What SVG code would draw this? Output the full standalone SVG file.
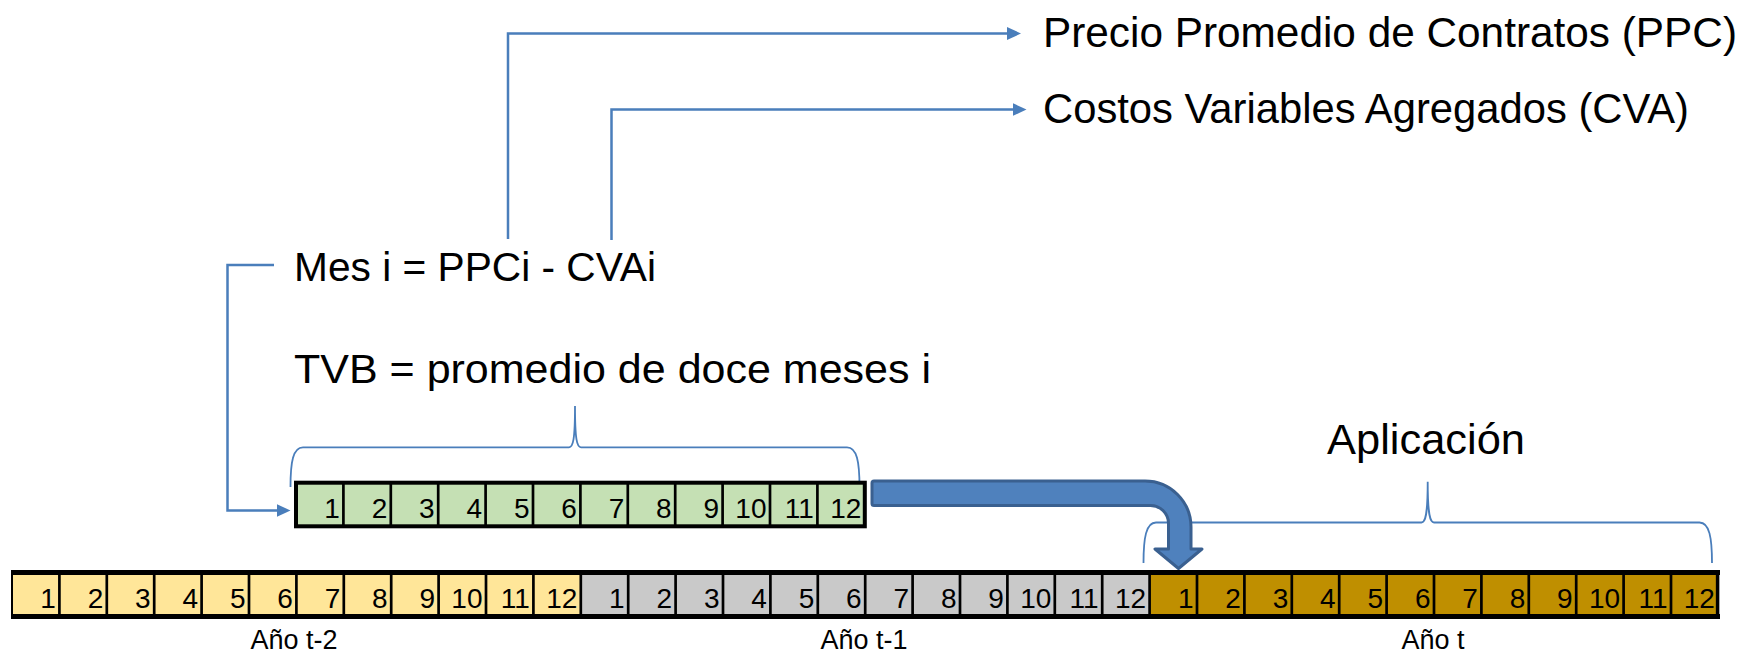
<svg xmlns="http://www.w3.org/2000/svg" width="1744" height="655" viewBox="0 0 1744 655">
<style>
text{font-family:"Liberation Sans",Arial,sans-serif;fill:#000}
.big{font-size:42px}
.num{font-size:28px;text-anchor:end}
.yr{font-size:27px;text-anchor:middle}
.sep{stroke:#000;stroke-width:2.7}
.conn{fill:none;stroke:#4A7EBB;stroke-width:2.5}
.brace{fill:none;stroke:#4A7EBB;stroke-width:1.8}
</style>
<defs>
<marker id="ah" markerUnits="userSpaceOnUse" markerWidth="16" markerHeight="14" refX="3" refY="6.5" orient="auto">
<path d="M0,0 L14,6.5 L0,13 Z" fill="#4A7EBB"/>
</marker>
</defs>

<g id="label-ppc"><text class="big" x="1043" y="46.5" textLength="694" lengthAdjust="spacingAndGlyphs">Precio Promedio de Contratos (PPC)</text></g>
<g id="label-cva"><text class="big" x="1043" y="122.5" textLength="646" lengthAdjust="spacingAndGlyphs">Costos Variables Agregados (CVA)</text></g>
<g id="label-mes"><text class="big" x="294" y="280.5" style="font-size:40px" textLength="362" lengthAdjust="spacingAndGlyphs">Mes i = PPCi - CVAi</text></g>
<g id="label-tvb"><text class="big" x="294" y="383.3" style="font-size:40px" textLength="637" lengthAdjust="spacingAndGlyphs">TVB = promedio de doce meses i</text></g>
<g id="label-aplicacion"><text class="big" x="1327" y="454.3" style="font-size:43px" textLength="198" lengthAdjust="spacingAndGlyphs">Aplicación</text></g>

<g id="connectors">
<path class="conn" d="M508,239 V33.5 H1010" marker-end="url(#ah)"/>
<path class="conn" d="M611.5,240 V109.5 H1015.5" marker-end="url(#ah)"/>
<path class="conn" d="M274,265 H227.5 V510.5 H279.5" marker-end="url(#ah)"/>
<path class="brace" d="M290.5,487 C290.5,462 293,447.3 303,447.3 H569 C573,447.3 575,440 575,406 C575,440 577,447.3 581,447.3 H847 C857,447.3 859.5,462 859.5,487"/>
<path class="brace" d="M1143.5,563 C1143.5,538 1146,522.5 1156,522.5 H1421.5 C1425.5,522.5 1427.7,515 1427.7,481.7 C1427.7,515 1430,522.5 1434,522.5 H1699.5 C1709.5,522.5 1712,538 1712,563"/>
<path id="big-arrow" d="M874,481 H1145 A46,46 0 0 1 1191,527 V549 H1202 L1178.5,568.5 L1155,549 H1168.5 V523.5 A18,18 0 0 0 1150.5,505.5 H874 Q872,505.5 872,503.5 V483 Q872,481 874,481 Z" fill="#4F81BD" stroke="#3A6090" stroke-width="3" stroke-linejoin="round"/>
</g>

<g id="tvb-months">
<rect x="296" y="482.7" width="568.8" height="43.6" fill="#C5E0B4" stroke="#000" stroke-width="4"/>
<g class="sep">
<line x1="343.4" y1="482.7" x2="343.4" y2="526.3"/><line x1="390.8" y1="482.7" x2="390.8" y2="526.3"/><line x1="438.2" y1="482.7" x2="438.2" y2="526.3"/><line x1="485.6" y1="482.7" x2="485.6" y2="526.3"/><line x1="533" y1="482.7" x2="533" y2="526.3"/><line x1="580.4" y1="482.7" x2="580.4" y2="526.3"/><line x1="627.8" y1="482.7" x2="627.8" y2="526.3"/><line x1="675.2" y1="482.7" x2="675.2" y2="526.3"/><line x1="722.6" y1="482.7" x2="722.6" y2="526.3"/><line x1="770" y1="482.7" x2="770" y2="526.3"/><line x1="817.4" y1="482.7" x2="817.4" y2="526.3"/>
</g>
<text class="num" x="339.9" y="518">1</text><text class="num" x="387.3" y="518">2</text><text class="num" x="434.7" y="518">3</text><text class="num" x="482.1" y="518">4</text><text class="num" x="529.5" y="518">5</text><text class="num" x="576.9" y="518">6</text><text class="num" x="624.3" y="518">7</text><text class="num" x="671.7" y="518">8</text><text class="num" x="719.1" y="518">9</text><text class="num" x="766.5" y="518">10</text><text class="num" x="813.9" y="518">11</text><text class="num" x="861.3" y="518">12</text>
</g>

<g id="year-t-2">
<rect x="12" y="572" width="568.8" height="45" fill="#FFE699"/>
<text class="num" x="55.9" y="608">1</text><text class="num" x="103.3" y="608">2</text><text class="num" x="150.7" y="608">3</text><text class="num" x="198.1" y="608">4</text><text class="num" x="245.5" y="608">5</text><text class="num" x="292.9" y="608">6</text><text class="num" x="340.3" y="608">7</text><text class="num" x="387.7" y="608">8</text><text class="num" x="435.1" y="608">9</text><text class="num" x="482.5" y="608">10</text><text class="num" x="529.9" y="608">11</text><text class="num" x="577.3" y="608">12</text>
<text class="yr" x="294" y="649">Año t-2</text>
</g>

<g id="year-t-1">
<rect x="580.8" y="572" width="568.8" height="45" fill="#C9C9C9"/>
<text class="num" x="624.7" y="608">1</text><text class="num" x="672.1" y="608">2</text><text class="num" x="719.5" y="608">3</text><text class="num" x="766.9" y="608">4</text><text class="num" x="814.3" y="608">5</text><text class="num" x="861.7" y="608">6</text><text class="num" x="909.1" y="608">7</text><text class="num" x="956.5" y="608">8</text><text class="num" x="1003.9" y="608">9</text><text class="num" x="1051.3" y="608">10</text><text class="num" x="1098.7" y="608">11</text><text class="num" x="1146.1" y="608">12</text>
<text class="yr" x="864" y="649">Año t-1</text>
</g>

<g id="year-t">
<rect x="1149.6" y="572" width="568.8" height="45" fill="#BF8F00"/>
<text class="num" x="1193.5" y="608">1</text><text class="num" x="1240.9" y="608">2</text><text class="num" x="1288.3" y="608">3</text><text class="num" x="1335.7" y="608">4</text><text class="num" x="1383.1" y="608">5</text><text class="num" x="1430.5" y="608">6</text><text class="num" x="1477.9" y="608">7</text><text class="num" x="1525.3" y="608">8</text><text class="num" x="1572.7" y="608">9</text><text class="num" x="1620.1" y="608">10</text><text class="num" x="1667.5" y="608">11</text><text class="num" x="1714.9" y="608">12</text>
<text class="yr" x="1433" y="649">Año t</text>
</g>

<g id="timeline-grid">
<rect x="11" y="570" width="1709" height="5" fill="#000"/>
<rect x="11" y="614" width="1709" height="5" fill="#000"/>
<g class="sep">
<line x1="12" y1="570" x2="12" y2="619" stroke-width="2"/><line x1="59.4" y1="570" x2="59.4" y2="619"/><line x1="106.8" y1="570" x2="106.8" y2="619"/><line x1="154.2" y1="570" x2="154.2" y2="619"/><line x1="201.6" y1="570" x2="201.6" y2="619"/><line x1="249" y1="570" x2="249" y2="619"/><line x1="296.4" y1="570" x2="296.4" y2="619"/><line x1="343.8" y1="570" x2="343.8" y2="619"/><line x1="391.2" y1="570" x2="391.2" y2="619"/><line x1="438.6" y1="570" x2="438.6" y2="619"/><line x1="486" y1="570" x2="486" y2="619"/><line x1="533.4" y1="570" x2="533.4" y2="619"/><line x1="580.8" y1="570" x2="580.8" y2="619"/>
<line x1="628.2" y1="570" x2="628.2" y2="619"/><line x1="675.6" y1="570" x2="675.6" y2="619"/><line x1="723" y1="570" x2="723" y2="619"/><line x1="770.4" y1="570" x2="770.4" y2="619"/><line x1="817.8" y1="570" x2="817.8" y2="619"/><line x1="865.2" y1="570" x2="865.2" y2="619"/><line x1="912.6" y1="570" x2="912.6" y2="619"/><line x1="960" y1="570" x2="960" y2="619"/><line x1="1007.4" y1="570" x2="1007.4" y2="619"/><line x1="1054.8" y1="570" x2="1054.8" y2="619"/><line x1="1102.2" y1="570" x2="1102.2" y2="619"/><line x1="1149.6" y1="570" x2="1149.6" y2="619"/>
<line x1="1197" y1="570" x2="1197" y2="619"/><line x1="1244.4" y1="570" x2="1244.4" y2="619"/><line x1="1291.8" y1="570" x2="1291.8" y2="619"/><line x1="1339.2" y1="570" x2="1339.2" y2="619"/><line x1="1386.6" y1="570" x2="1386.6" y2="619"/><line x1="1434" y1="570" x2="1434" y2="619"/><line x1="1481.4" y1="570" x2="1481.4" y2="619"/><line x1="1528.8" y1="570" x2="1528.8" y2="619"/><line x1="1576.2" y1="570" x2="1576.2" y2="619"/><line x1="1623.6" y1="570" x2="1623.6" y2="619"/><line x1="1671" y1="570" x2="1671" y2="619"/><line x1="1717.6" y1="570" x2="1717.6" y2="619" stroke-width="3.5"/>
</g>
</g>
</svg>
